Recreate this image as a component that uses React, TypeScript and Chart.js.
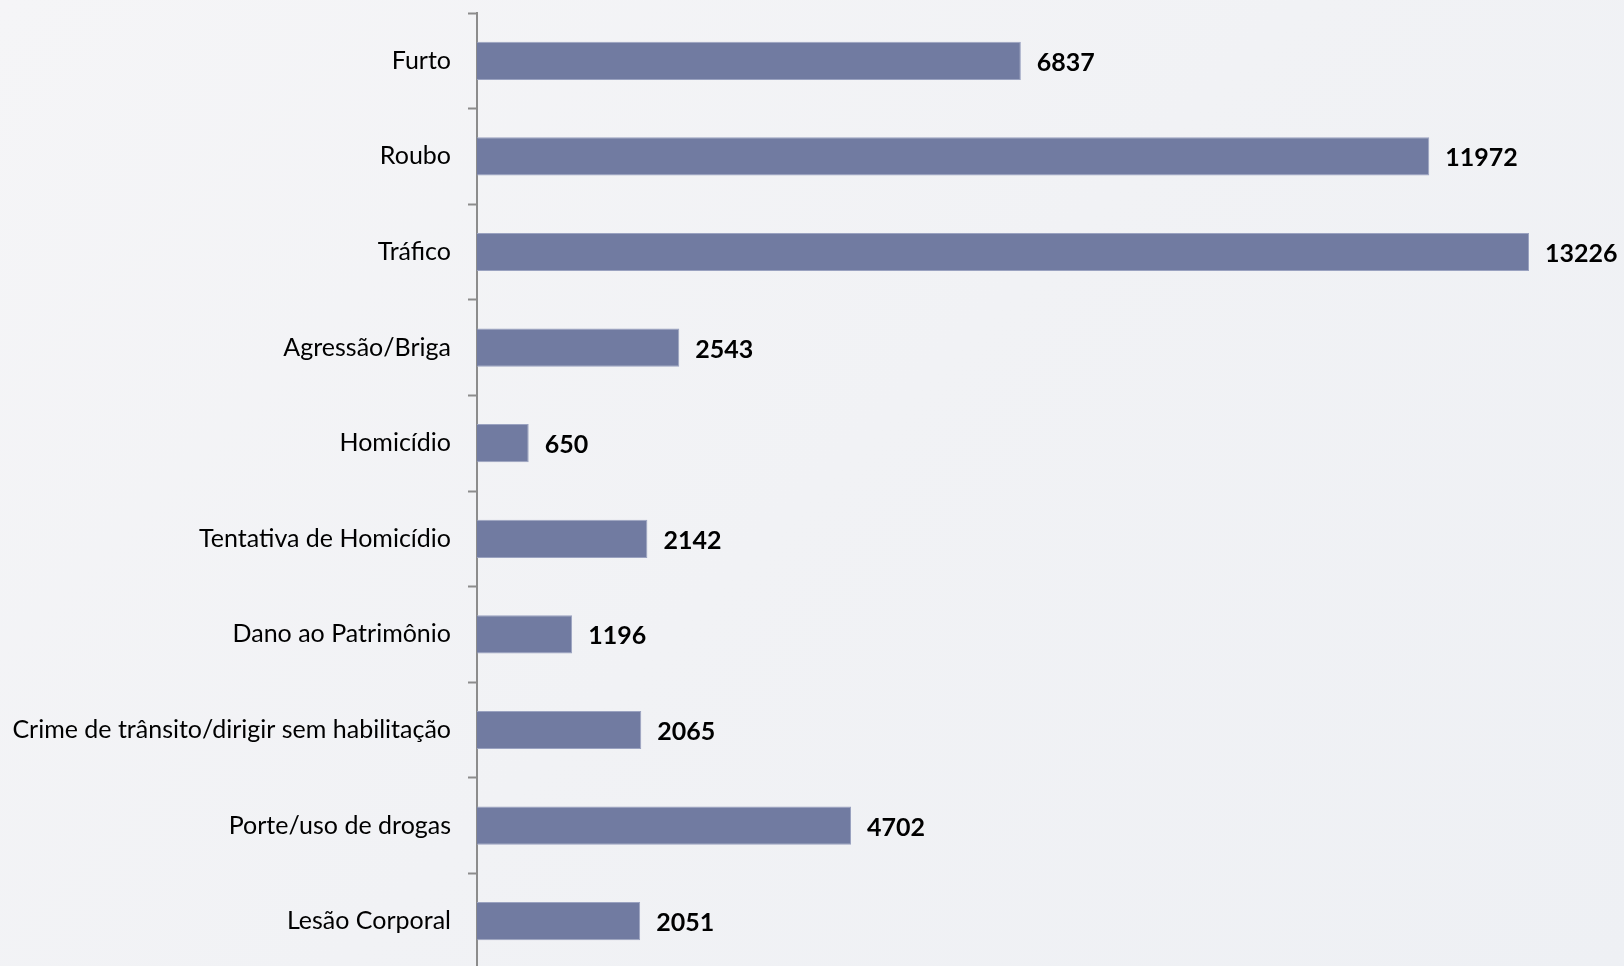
import React, { useEffect, useRef } from "react";
import { Chart, registerables } from "chart.js";

Chart.register(...registerables);

const categories = [
  "Furto",
  "Roubo",
  "Tráfico",
  "Agressão/Briga",
  "Homicídio",
  "Tentativa de Homicídio",
  "Dano ao Patrimônio",
  "Crime de trânsito/dirigir sem habilitação",
  "Porte/uso de drogas",
  "Lesão Corporal",
];
const values = [6837, 11972, 13226, 2543, 650, 2142, 1196, 2065, 4702, 2051];
const xMax = 14420;

const valueLabels = {
  id: "valueLabels",
  afterDatasetsDraw(chart: any) {
    const ctx = chart.ctx;
    const meta = chart.getDatasetMeta(0);
    ctx.save();
    ctx.font = "bold 25px Lato";
    ctx.fillStyle = "#000000";
    ctx.textAlign = "left";
    ctx.textBaseline = "middle";
    meta.data.forEach((bar: any, i: number) => {
      const v = chart.data.datasets[0].data[i];
      ctx.fillText(String(v), bar.x + 16, bar.y + 2);
    });
    ctx.restore();
  },
};

export default function App() {
  const ref = useRef<HTMLCanvasElement | null>(null);
  useEffect(() => {
    document.body.style.margin = "0";
    document.body.style.overflow = "hidden";
    const chart = new Chart(ref.current as HTMLCanvasElement, {
      type: "bar",
      data: {
        labels: categories,
        datasets: [
          {
            data: values,
            backgroundColor: "#717ba1",
            borderColor: "#9aa2c0",
            borderWidth: 1,
            categoryPercentage: 1,
            barPercentage: 0.4,
          },
        ],
      },
      options: {
        indexAxis: "y",
        animation: false,
        responsive: false,
        layout: { padding: { top: 13, bottom: 11, left: 0, right: 0 } },
        plugins: { legend: { display: false }, tooltip: { enabled: false } },
        scales: {
          x: { display: false, min: 0, max: xMax },
          y: {
            afterFit(scale: any) {
              scale.width = 477;
              scale.paddingTop = 0;
              scale.paddingBottom = 0;
            },
            grid: {
              drawOnChartArea: false,
              drawTicks: true,
              tickLength: 9,
              tickWidth: 2,
              color: "#8c8c8c",
              offset: true,
            },
            border: { display: true, color: "#8c8c8c", width: 2 },
            ticks: {
              color: "#000000",
              padding: 17,
              font: { family: "Lato", size: 25 },
            },
          },
        },
      },
      plugins: [valueLabels],
    });
    return () => chart.destroy();
  }, []);
  return (
    <div
      style={{
        position: "fixed",
        left: 0,
        top: 0,
        width: 1624,
        height: 980,
        background: "linear-gradient(135deg, #f5f5f7 0%, #f1f2f5 50%, #eef0f4 100%)",
      }}
    >
      <canvas ref={ref} width={1624} height={980} />
    </div>
  );
}
